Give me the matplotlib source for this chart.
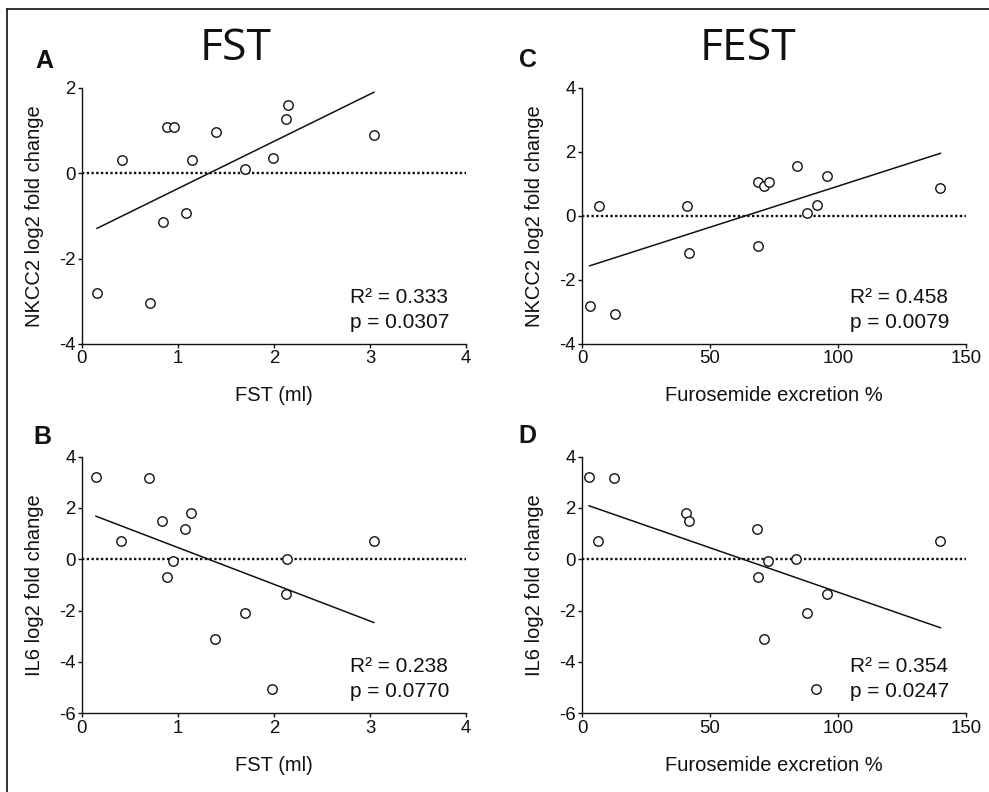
import numpy as np
import matplotlib
matplotlib.use('Agg')
import matplotlib.pyplot as plt
from matplotlib.lines import Line2D

plt.rcParams['font.family'] = ['Liberation Sans', 'DejaVu Sans']
plt.rcParams['axes.unicode_minus'] = False

# FST volume (ml) per patient
fst_nkcc2 = [0.156, 0.416, 0.704, 0.84, 0.885, 0.954, 1.082, 1.141, 1.395, 1.70, 1.988, 2.13, 2.147, 3.04]
nkcc2_fst = [-2.80, 0.31, -3.05, -1.145, 1.085, 1.085, -0.93, 0.32, 0.96, 0.11, 0.36, 1.27, 1.59, 0.90]

fst_il6 = [0.146, 0.41, 0.696, 0.835, 0.883, 0.946, 1.075, 1.137, 1.388, 1.694, 1.983, 2.13, 2.14, 3.04]
il6_fst = [3.19, 0.70, 3.16, 1.51, -0.675, -0.05, 1.195, 1.805, -3.09, -2.08, -5.065, -1.35, 0.0, 0.70]

# furosemide excretion %
fest_nkcc2 = [2.99, 6.5, 12.75, 41.1, 41.8, 68.6, 68.8, 71.2, 72.85, 83.8, 87.8, 91.6, 95.6, 140.0]
nkcc2_fest = [-2.82, 0.30, -3.07, 0.31, -1.155, -0.94, 1.07, 0.95, 1.07, 1.57, 0.09, 0.34, 1.26, 0.87]

fest_il6 = [2.74, 6.26, 12.65, 40.8, 41.6, 68.5, 68.7, 71.1, 72.8, 83.7, 87.8, 91.4, 95.5, 140.0]
il6_fest = [3.19, 0.70, 3.16, 1.805, 1.51, 1.18, -0.675, -3.09, -0.05, 0.0, -2.08, -5.065, -1.35, 0.70]

stats = {'A': ('0.333', '0.0307'), 'B': ('0.238', '0.0770'),
         'C': ('0.458', '0.0079'), 'D': ('0.354', '0.0247')}

W, H = 989, 792
fig = plt.figure(figsize=(W / 100, H / 100), dpi=100)
ink = '#111111'


def panel(rect, x, y, xlim, ylim, xticks, yticks, xlabel, ylabel, key):
    ax = fig.add_axes(rect)
    x = np.array(x)
    y = np.array(y)
    ax.plot([xlim[0], xlim[1]], [0, 0], color=ink, lw=1.7, ls=(0, (1, 1.0)), zorder=1)
    m, b = np.polyfit(x, y, 1)
    xs = np.array([x.min(), x.max()])
    ax.plot(xs, m * xs + b, color=ink, lw=1.1, zorder=2)
    ax.plot(x, y, 'o', ms=6.8, mfc='white', mec=ink, mew=1.0, zorder=3)
    ax.set_xlim(xlim)
    ax.set_ylim(ylim)
    ax.set_xticks(xticks)
    ax.set_yticks(yticks)
    for s in ['top', 'right']:
        ax.spines[s].set_visible(False)
    for s in ['left', 'bottom']:
        ax.spines[s].set_linewidth(1.0)
        ax.spines[s].set_color(ink)
    ax.tick_params(direction='out', length=3.2, width=1.0, pad=1.5,
                   labelsize=13.4, colors=ink)
    ax.set_xlabel(xlabel, fontsize=14.5, color=ink)
    ax.set_ylabel(ylabel, fontsize=14.5, color=ink)
    ax.yaxis.set_label_coords(-0.10, 0.5)
    ax.xaxis.set_label_coords(0.5, -0.165)
    r2, p = stats[key]
    ax.text(0.698, 0.16, 'R\u00b2 = ' + r2, transform=ax.transAxes, fontsize=15, color=ink)
    ax.text(0.698, 0.0625, 'p = ' + p, transform=ax.transAxes, fontsize=15, color=ink)
    return ax


panel([0.0829, 0.5657, 0.3883, 0.3232], fst_nkcc2, nkcc2_fst, (0, 4), (-4, 2), [0, 1, 2, 3, 4],
      [-4, -2, 0, 2], 'FST (ml)', 'NKCC2 log2 fold change', 'A')
panel([0.0829, 0.0994, 0.3883, 0.324], fst_il6, il6_fst, (0, 4), (-6, 4), [0, 1, 2, 3, 4],
      [-6, -4, -2, 0, 2, 4], 'FST (ml)', 'IL6 log2 fold change', 'B')
panel([0.5885, 0.5657, 0.3883, 0.3232], fest_nkcc2, nkcc2_fest, (0, 150), (-4, 4), [0, 50, 100, 150],
      [-4, -2, 0, 2, 4], 'Furosemide excretion %', 'NKCC2 log2 fold change', 'C')
panel([0.5885, 0.0994, 0.3883, 0.324], fest_il6, il6_fest, (0, 150), (-6, 4), [0, 50, 100, 150],
      [-6, -4, -2, 0, 2, 4], 'Furosemide excretion %', 'IL6 log2 fold change', 'D')

fig.text(0.2386, 0.924, 'FST', fontsize=32, family='Open Sans', ha='center', va='baseline', color=ink)
fig.text(0.756, 0.924, 'FEST', fontsize=32, family='Open Sans', ha='center', va='baseline', color=ink)

for lab, xx, yy in [('A', 0.0354, 0.914), ('C', 0.5245, 0.916), ('B', 0.0334, 0.439), ('D', 0.5237, 0.441)]:
    fig.text(xx, yy, lab, fontsize=18, fontweight='bold', va='baseline', color=ink)

# frame of the figure (top and left edges only)
fig.add_artist(Line2D([7 / W, 1], [1 - 8.5 / H, 1 - 8.5 / H], transform=fig.transFigure, color='#222222', lw=1.3))
fig.add_artist(Line2D([7 / W, 7 / W], [0, 1 - 8.5 / H], transform=fig.transFigure, color='#222222', lw=1.3))

fig.savefig('out.png', dpi=100)
